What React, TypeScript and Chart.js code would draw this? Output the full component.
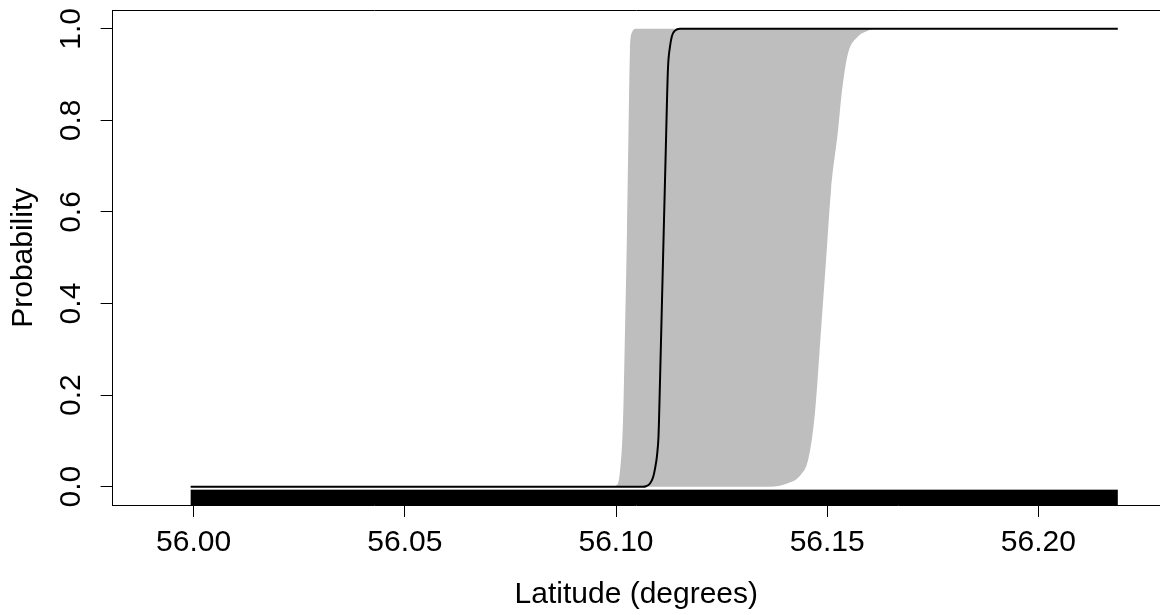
import { useEffect, useRef } from "react";
import { Chart, registerables } from "chart.js";

Chart.register(...registerables);

// ---- data ----
const xTickValues = [56.0, 56.05, 56.1, 56.15, 56.2];
const yTickValues = [0, 0.2, 0.4, 0.6, 0.8, 1.0];

// median probability curve
const medianLat = [55.9993, 56.10639, 56.1071, 56.10805, 56.10876, 56.10923, 56.10971, 56.11006, 56.11018, 56.11042, 56.11089, 56.11136, 56.11178, 56.11207, 56.11231, 56.11278, 56.11326, 56.11397, 56.11515, 56.2188];
const medianProb = [0, 0, 0.001, 0.007, 0.02, 0.039, 0.068, 0.109, 0.144, 0.232, 0.406, 0.581, 0.734, 0.843, 0.915, 0.961, 0.985, 0.996, 1, 1];

// upper envelope (left edge of grey band)
const upperLat = [55.9993, 56.09905, 56.10024, 56.10095, 56.10166, 56.10213, 56.1026, 56.10296, 56.10331, 56.10379, 56.10473, 56.2188];
const upperProb = [0, 0, 0.004, 0.035, 0.144, 0.341, 0.559, 0.778, 0.953, 0.992, 1, 1];

// lower envelope (right edge of grey band)
const lowerLat = [55.9993, 56.13646, 56.14048, 56.14356, 56.14545, 56.14664, 56.14735, 56.14853, 56.14972, 56.1509, 56.15256, 56.1535, 56.15492, 56.15705, 56.15919, 56.16179, 56.2188];
const lowerProb = [0, 0, 0.007, 0.024, 0.057, 0.122, 0.188, 0.341, 0.494, 0.647, 0.778, 0.865, 0.946, 0.981, 0.994, 1, 1];

// extent of observed latitudes shown as a rug (dense ticks)
const rugLat = [55.9993, 56.2188];

const xLabel = "Latitude (degrees)";
const yLabel = "Probability";

// ---- styles ----
const FONT = { family: "'Liberation Sans', Arial, sans-serif", size: 30 };
const BAND = "#bebebe";
const RUG_FRACTION = 0.031;

const toPoints = (xs: number[], ys: number[]) => xs.map((x, i) => ({ x, y: ys[i] }));

const framePlugin = {
  id: "frame",
  afterDatasetsDraw(chart: any) {
    const { ctx, chartArea, scales } = chart;
    const x = scales.x;
    const h = (chartArea.bottom - chartArea.top) * RUG_FRACTION;
    ctx.save();
    // rug
    ctx.fillStyle = "#000";
    const x0 = x.getPixelForValue(rugLat[0]);
    const x1 = x.getPixelForValue(rugLat[rugLat.length - 1]);
    ctx.fillRect(x0, chartArea.bottom - h, x1 - x0, h);
    // top frame line
    ctx.strokeStyle = "#000";
    ctx.lineWidth = 1;
    ctx.beginPath();
    ctx.moveTo(chartArea.left, chartArea.top);
    ctx.lineTo(chartArea.right, chartArea.top);
    ctx.stroke();
    ctx.restore();
  },
};

export default function App() {
  const ref = useRef<HTMLCanvasElement | null>(null);

  useEffect(() => {
    if (!ref.current) return;
    const chart = new Chart(ref.current, {
      type: "line",
      data: {
        datasets: [
          {
            label: "upper",
            data: toPoints(upperLat, upperProb),
            borderColor: "rgba(0,0,0,0)",
            borderWidth: 0,
            backgroundColor: BAND,
            pointRadius: 0,
            fill: "+1",
            cubicInterpolationMode: "monotone",
            order: 3,
          },
          {
            label: "lower",
            data: toPoints(lowerLat, lowerProb),
            borderColor: "rgba(0,0,0,0)",
            borderWidth: 0,
            backgroundColor: BAND,
            pointRadius: 0,
            fill: false,
            cubicInterpolationMode: "monotone",
            order: 2,
          },
          {
            label: "median",
            data: toPoints(medianLat, medianProb),
            borderColor: "#000",
            borderWidth: 2,
            pointRadius: 0,
            fill: false,
            cubicInterpolationMode: "monotone",
            order: 1,
          },
        ],
      },
      options: {
        animation: false,
        responsive: false,
        events: [],
        layout: { padding: { top: 10.5, right: 0, left: 0, bottom: 0 } },
        plugins: { legend: { display: false }, tooltip: { enabled: false } },
        scales: {
          x: {
            type: "linear",
            min: 55.98082,
            max: 56.22879,
            afterBuildTicks: (s: any) => {
              s.ticks = xTickValues.map((v) => ({ value: v }));
            },
            afterFit: (s: any) => {
              s.height = 110;
              s.paddingLeft = 0;
              s.paddingRight = 0;
            },
            ticks: {
              font: FONT,
              color: "#000",
              padding: 8,
              maxRotation: 0,
              minRotation: 0,
              autoSkip: false,
              callback: (v: any) => Number(v).toFixed(2),
            },
            grid: { display: true, drawOnChartArea: false, drawTicks: true, tickLength: 12, tickColor: "#000", tickWidth: 1 },
            border: { display: true, color: "#000", width: 1 },
            title: { display: true, text: xLabel, font: FONT, color: "#000", padding: { top: 0, bottom: 2 } },
          },
          y: {
            type: "linear",
            min: -0.04,
            max: 1.04,
            afterBuildTicks: (s: any) => {
              s.ticks = yTickValues.map((v) => ({ value: v }));
            },
            afterFit: (s: any) => {
              s.width = 112.6;
              s.paddingTop = 0;
              s.paddingBottom = 0;
            },
            ticks: {
              font: FONT,
              color: "#000",
              padding: 8,
              minRotation: 90,
              maxRotation: 90,
              crossAlign: "center",
              autoSkip: false,
              callback: (v: any) => Number(v).toFixed(1),
            },
            grid: { display: true, drawOnChartArea: false, drawTicks: true, tickLength: 12, tickColor: "#000", tickWidth: 1 },
            border: { display: true, color: "#000", width: 1 },
            title: { display: true, text: yLabel, font: FONT, color: "#000", padding: { top: 6, bottom: 0 } },
          },
        },
      },
      plugins: [framePlugin],
    } as any);
    return () => chart.destroy();
  }, []);

  return (
    <div style={{ position: "fixed", left: 0, top: 0, width: 1160, height: 615, background: "#fff" }}>
      <canvas ref={ref} width={1160} height={615} style={{ display: "block", width: 1160, height: 615 }} />
    </div>
  );
}
